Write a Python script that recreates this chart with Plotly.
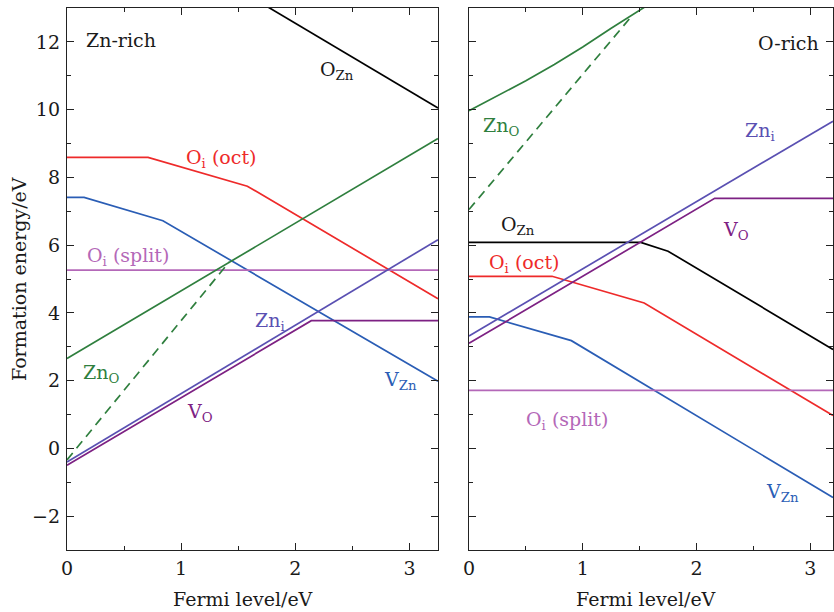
import plotly.graph_objects as go

# ---------------- data ----------------
# Left panel: Zn-rich
ozn_L_x = [1.5, 3.25];               ozn_L_y = [13.55, 10.05]
oioct_L_x = [0, 0.71, 1.58, 3.25];   oioct_L_y = [8.59, 8.59, 7.74, 4.42]
vzn_L_x = [0, 0.15, 0.84, 3.25];     vzn_L_y = [7.41, 7.41, 6.72, 1.98]
oisplit_L_x = [0, 3.25];             oisplit_L_y = [5.26, 5.26]
zno_L_x = [0, 3.25];                 zno_L_y = [2.65, 9.15]
zno2_L_x = [0, 1.42];                zno2_L_y = [-0.34, 5.5]
zni_L_x = [0, 3.25];                 zni_L_y = [-0.4, 6.16]
vo_L_x = [0, 2.14, 3.25];            vo_L_y = [-0.5, 3.77, 3.77]

# Right panel: O-rich
ozn_R_x = [0, 1.51, 1.75, 3.2];      ozn_R_y = [6.08, 6.08, 5.82, 2.92]
oioct_R_x = [0, 0.73, 1.54, 3.2];    oioct_R_y = [5.08, 5.08, 4.29, 0.97]
vzn_R_x = [0, 0.18, 0.9, 3.2];       vzn_R_y = [3.88, 3.88, 3.18, -1.45]
oisplit_R_x = [0, 3.2];              oisplit_R_y = [1.71, 1.71]
zno_R_x = [0, 0.25, 0.5, 0.75, 1.0, 1.25, 1.55]
zno_R_y = [9.97, 10.4, 10.85, 11.33, 11.85, 12.4, 13.04]
zno2_R_x = [0, 1.44];                zno2_R_y = [7.05, 12.8]
zni_R_x = [0, 3.2];                  zni_R_y = [3.32, 9.66]
vo_R_x = [0, 2.16, 3.2];             vo_R_y = [3.1, 7.38, 7.38]

x_ticks = [0, 1, 2, 3]
y_ticks = [-2, 0, 2, 4, 6, 8, 10, 12]
x_title = "Fermi level/eV"
y_title = "Formation energy/eV"

# ---------------- style ----------------
C_BLACK = "#000000"
C_RED = "#ee2a2a"
C_BLUE = "#2a5db5"
C_PINK = "#b468b8"
C_GREEN = "#2f7f3e"
C_ZNI = "#5a50b2"
C_VO = "#7d2183"
C_TEXT = "#1a1a1a"
LW = 1.7
FONT = "DejaVu Serif"
FS = 19

fig = go.Figure()

def add(x, y, color, axis, dash="solid"):
    xa, ya = ("x", "y") if axis == 1 else ("x2", "y2")
    fig.add_trace(go.Scatter(x=x, y=y, mode="lines", xaxis=xa, yaxis=ya,
                             line=dict(color=color, width=LW, dash=dash),
                             showlegend=False, hoverinfo="skip"))

add(ozn_L_x, ozn_L_y, C_BLACK, 1)
add(oioct_L_x, oioct_L_y, C_RED, 1)
add(vzn_L_x, vzn_L_y, C_BLUE, 1)
add(oisplit_L_x, oisplit_L_y, C_PINK, 1)
add(zno_L_x, zno_L_y, C_GREEN, 1)
add(zno2_L_x, zno2_L_y, C_GREEN, 1, dash="9px,6px")
add(zni_L_x, zni_L_y, C_ZNI, 1)
add(vo_L_x, vo_L_y, C_VO, 1)

add(ozn_R_x, ozn_R_y, C_BLACK, 2)
add(oioct_R_x, oioct_R_y, C_RED, 2)
add(vzn_R_x, vzn_R_y, C_BLUE, 2)
add(oisplit_R_x, oisplit_R_y, C_PINK, 2)
add(zno_R_x, zno_R_y, C_GREEN, 2)
add(zno2_R_x, zno2_R_y, C_GREEN, 2, dash="9px,6px")
add(zni_R_x, zni_R_y, C_ZNI, 2)
add(vo_R_x, vo_R_y, C_VO, 2)

W, H = 834, 612
def px(v): return v / W
def py(v): return 1 - v / H

axis_common = dict(showline=True, linecolor="#222", linewidth=1.3, mirror="allticks",
                   ticks="inside", ticklen=7, tickwidth=1.2, tickcolor="#222",
                   showgrid=False, zeroline=False, automargin=False,
                   tickfont=dict(family=FONT, size=FS, color=C_TEXT))

fig.update_layout(
    template="none",
    width=W, height=H, margin=dict(l=0, r=0, t=0, b=0, pad=0),
    paper_bgcolor="white", plot_bgcolor="white",
    xaxis=dict(domain=[px(67), px(438)], range=[0, 3.25], tickvals=x_ticks,
               minor=dict(dtick=0.5, ticks="inside", ticklen=4, tickwidth=1.1, tickcolor="#222"),
               ticklabelstandoff=1, anchor="y", **axis_common),
    yaxis=dict(domain=[py(550), py(8)], range=[-3, 13], tickvals=y_ticks,
               minor=dict(dtick=1, ticks="inside", ticklen=4, tickwidth=1.1, tickcolor="#222"),
               ticklabelstandoff=2, anchor="x", **axis_common),
    xaxis2=dict(domain=[px(469), px(833)], range=[0, 3.2], tickvals=x_ticks,
                minor=dict(dtick=0.5, ticks="inside", ticklen=4, tickwidth=1.1, tickcolor="#222"),
                ticklabelstandoff=1, anchor="y2", **axis_common),
    yaxis2=dict(domain=[py(550), py(8)], range=[-3, 13], tickvals=y_ticks,
                minor=dict(dtick=1, ticks="inside", ticklen=4, tickwidth=1.1, tickcolor="#222"),
                showticklabels=False, anchor="x2", **axis_common),
)

def lab(text, x, y, color, axis):
    xr, yr = ("x", "y") if axis == 1 else ("x2", "y2")
    fig.add_annotation(text=text, x=x, y=y, xref=xr, yref=yr, xanchor="left",
                       yanchor="middle", showarrow=False, borderpad=0,
                       font=dict(family=FONT, size=FS, color=color))

lab("Zn-rich", 0.16, 12.06, C_TEXT, 1)
lab("O<sub>Zn</sub>", 2.21, 11.15, C_TEXT, 1)
lab("O<sub>i</sub> (oct)", 1.035, 8.55, C_RED, 1)
lab("O<sub>i</sub> (split)", 0.167, 5.66, C_PINK, 1)
lab("Zn<sub>O</sub>", 0.13, 2.2, C_GREEN, 1)
lab("V<sub>O</sub>", 1.04, 1.06, C_VO, 1)
lab("Zn<sub>i</sub>", 1.64, 3.76, C_ZNI, 1)
lab("V<sub>Zn</sub>", 2.77, 2.0, C_BLUE, 1)

lab("O-rich", 2.53, 11.97, C_TEXT, 2)
lab("Zn<sub>O</sub>", 0.11, 9.5, C_GREEN, 2)
lab("Zn<sub>i</sub>", 2.42, 9.35, C_ZNI, 2)
lab("O<sub>Zn</sub>", 0.27, 6.58, C_TEXT, 2)
lab("V<sub>O</sub>", 2.22, 6.44, C_VO, 2)
lab("O<sub>i</sub> (oct)", 0.167, 5.47, C_RED, 2)
lab("O<sub>i</sub> (split)", 0.49, 0.82, C_PINK, 2)
lab("V<sub>Zn</sub>", 2.6, -1.3, C_BLUE, 2)

fig.add_annotation(text=x_title, x=px(243), y=py(599), xref="paper", yref="paper",
                   xanchor="center", yanchor="middle",
                   showarrow=False, font=dict(family=FONT, size=FS, color=C_TEXT))
fig.add_annotation(text=x_title, x=px(646), y=py(599), xref="paper", yref="paper",
                   xanchor="center", yanchor="middle",
                   showarrow=False, font=dict(family=FONT, size=FS, color=C_TEXT))
fig.add_annotation(text=y_title, x=px(19), y=py(279), xref="paper", yref="paper",
                   xanchor="center", yanchor="middle",
                   showarrow=False, textangle=-90, font=dict(family=FONT, size=FS, color=C_TEXT))

fig.write_html("out.html")
